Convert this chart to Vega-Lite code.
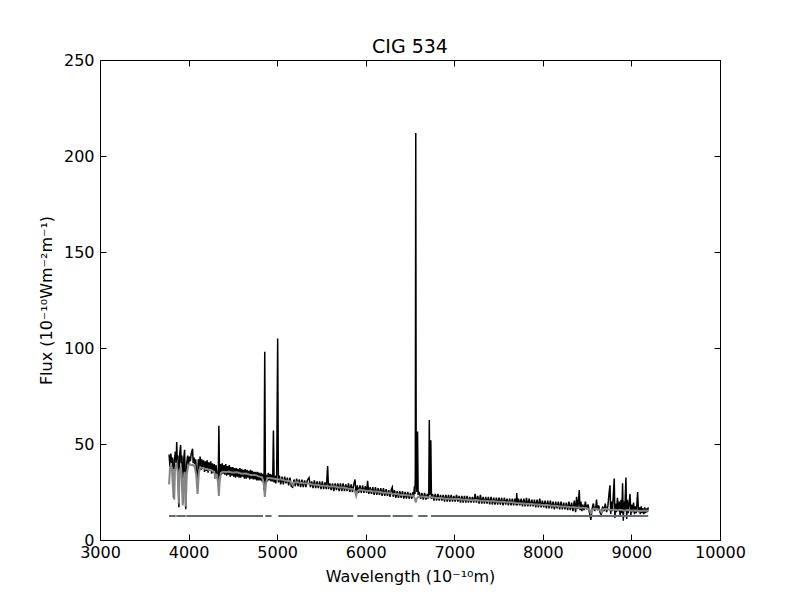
{
  "$schema": "https://vega.github.io/schema/vega-lite/v6.json",
  "description": "CIG 534 spectrum: observed flux, model fit and masked regions.",
  "width": 620,
  "height": 480,
  "autosize": "none",
  "padding": {"left": 100, "top": 60, "right": 80, "bottom": 60},
  "background": "white",
  "title": {
    "text": "CIG 534",
    "font": "DejaVu Sans",
    "fontSize": 19,
    "fontWeight": "normal",
    "color": "black",
    "frame": "group",
    "anchor": "middle",
    "offset": -5
  },
  "config": {
    "view": {"stroke": "black", "strokeWidth": 1},
    "axis": {
      "domain": false,
      "grid": false,
      "ticks": true,
      "tickColor": "black",
      "tickSize": -6,
      "tickWidth": 1,
      "labelFont": "DejaVu Sans",
      "labelFontSize": 16,
      "labelColor": "black",
      "titleFont": "DejaVu Sans",
      "titleFontSize": 16,
      "titleFontWeight": "normal",
      "titleColor": "black"
    }
  },
  "datasets": {
    "obs": [
      {"w":3780,"f":44.5},{"w":3790,"f":38},{"w":3800,"f":45},{"w":3810,"f":40},{"w":3820,"f":43},{"w":3830,"f":22},
      {"w":3840,"f":41},{"w":3850,"f":46},{"w":3860,"f":40},{"w":3866,"f":51},{"w":3872,"f":42},{"w":3880,"f":44},
      {"w":3891,"f":17},{"w":3900,"f":45},{"w":3910,"f":49.5},{"w":3918,"f":40},{"w":3925,"f":44},{"w":3935,"f":19},
      {"w":3945,"f":42},{"w":3955,"f":47},{"w":3968,"f":16},{"w":3978,"f":40},{"w":3990,"f":44},{"w":4000,"f":39},
      {"w":4010,"f":43.5},{"w":4020,"f":41},{"w":4030,"f":45},{"w":4045,"f":47.5},{"w":4052,"f":40},{"w":4060,"f":43},
      {"w":4070,"f":39.5},{"w":4080,"f":42},{"w":4090,"f":35},{"w":4100,"f":29},{"w":4110,"f":42},{"w":4120,"f":37},
      {"w":4130,"f":43.5},{"w":4140,"f":36.5},{"w":4150,"f":42},{"w":4160,"f":37},{"w":4170,"f":41.5},{"w":4180,"f":35.5},
      {"w":4190,"f":41},{"w":4200,"f":36},{"w":4210,"f":41.5},{"w":4220,"f":35},{"w":4230,"f":40.5},{"w":4240,"f":36},
      {"w":4250,"f":41},{"w":4260,"f":34.5},{"w":4270,"f":40},{"w":4280,"f":35},{"w":4290,"f":39.5},{"w":4300,"f":32},
      {"w":4310,"f":39},{"w":4320,"f":34.5},{"w":4335,"f":30},{"w":4342,"f":59.5},{"w":4350,"f":33},{"w":4360,"f":39.5},
      {"w":4370,"f":34},{"w":4380,"f":40},{"w":4390,"f":34.5},{"w":4400,"f":39},{"w":4410,"f":34},{"w":4420,"f":39.5},
      {"w":4430,"f":33.5},{"w":4440,"f":38.5},{"w":4450,"f":34},{"w":4460,"f":39},{"w":4470,"f":33},{"w":4480,"f":38},
      {"w":4490,"f":33.5},{"w":4500,"f":38},{"w":4510,"f":33},{"w":4520,"f":37.5},{"w":4530,"f":32.5},{"w":4540,"f":37.5},
      {"w":4550,"f":33},{"w":4560,"f":37},{"w":4570,"f":32.5},{"w":4580,"f":37.5},{"w":4590,"f":32.5},{"w":4600,"f":37},
      {"w":4610,"f":33},{"w":4620,"f":36.5},{"w":4630,"f":32},{"w":4640,"f":37},{"w":4650,"f":32},{"w":4660,"f":36.5},
      {"w":4670,"f":32.5},{"w":4680,"f":36},{"w":4690,"f":31.5},{"w":4700,"f":36.5},{"w":4710,"f":32},{"w":4720,"f":36},
      {"w":4730,"f":31.5},{"w":4740,"f":35.5},{"w":4750,"f":31.5},{"w":4760,"f":35.5},{"w":4770,"f":31},{"w":4780,"f":35.5},
      {"w":4790,"f":31},{"w":4800,"f":35},{"w":4810,"f":31},{"w":4820,"f":35},{"w":4830,"f":30.5},{"w":4840,"f":34.5},
      {"w":4852,"f":26},{"w":4860,"f":98},{"w":4868,"f":28},{"w":4878,"f":34},{"w":4890,"f":30.5},{"w":4900,"f":35},
      {"w":4910,"f":31},{"w":4920,"f":34.5},{"w":4930,"f":30.5},{"w":4940,"f":34},{"w":4950,"f":30.5},{"w":4958,"f":57},
      {"w":4966,"f":30},{"w":4975,"f":33.5},{"w":4985,"f":29.5},{"w":4995,"f":34},{"w":5006,"f":105},{"w":5014,"f":30},
      {"w":5025,"f":33.5},{"w":5040,"f":29},{"w":5055,"f":33},{"w":5070,"f":29},{"w":5085,"f":33},{"w":5100,"f":29.5},
      {"w":5115,"f":32.5},{"w":5130,"f":28.5},{"w":5145,"f":32.5},{"w":5160,"f":28},{"w":5175,"f":27.5},{"w":5190,"f":31.5},
      {"w":5205,"f":28},{"w":5220,"f":32},{"w":5235,"f":28},{"w":5250,"f":31.5},{"w":5265,"f":27.5},{"w":5280,"f":31.5},
      {"w":5295,"f":27.5},{"w":5310,"f":31},{"w":5325,"f":27.5},{"w":5340,"f":31},{"w":5360,"f":32.5},{"w":5375,"f":27.5},
      {"w":5390,"f":30.5},{"w":5405,"f":27},{"w":5420,"f":31},{"w":5435,"f":27},{"w":5450,"f":30.5},{"w":5465,"f":27},
      {"w":5480,"f":30.5},{"w":5495,"f":26.5},{"w":5510,"f":30.5},{"w":5525,"f":26.5},{"w":5540,"f":30},{"w":5555,"f":26.5},
      {"w":5570,"f":38.5},{"w":5580,"f":26.5},{"w":5595,"f":29.5},{"w":5610,"f":26},{"w":5625,"f":29.5},{"w":5640,"f":25.5},
      {"w":5655,"f":29.5},{"w":5670,"f":26},{"w":5685,"f":29.5},{"w":5700,"f":25.5},{"w":5715,"f":29.5},{"w":5730,"f":25.5},
      {"w":5745,"f":29.5},{"w":5760,"f":25.5},{"w":5775,"f":29},{"w":5790,"f":25.5},{"w":5805,"f":29.5},{"w":5820,"f":25},
      {"w":5835,"f":29},{"w":5850,"f":25},{"w":5865,"f":29},{"w":5879,"f":31.5},{"w":5892,"f":23.5},{"w":5905,"f":28.5},
      {"w":5920,"f":24.5},{"w":5935,"f":28.5},{"w":5950,"f":24.5},{"w":5965,"f":28.5},{"w":5980,"f":24.5},{"w":5995,"f":28},
      {"w":6010,"f":24.5},{"w":6021,"f":30.8},{"w":6035,"f":24},{"w":6050,"f":27.5},{"w":6065,"f":24},{"w":6080,"f":27.5},
      {"w":6095,"f":23.5},{"w":6110,"f":27.5},{"w":6125,"f":23.5},{"w":6140,"f":27},{"w":6155,"f":23.5},{"w":6170,"f":27},
      {"w":6185,"f":23},{"w":6200,"f":27},{"w":6215,"f":23},{"w":6230,"f":26.5},{"w":6245,"f":23},{"w":6260,"f":26},
      {"w":6275,"f":22.5},{"w":6290,"f":26.5},{"w":6300,"f":27.5},{"w":6310,"f":22.5},{"w":6325,"f":26},{"w":6340,"f":22},
      {"w":6355,"f":25.5},{"w":6370,"f":22},{"w":6385,"f":25.5},{"w":6400,"f":22},{"w":6415,"f":25.5},{"w":6430,"f":21.5},
      {"w":6445,"f":25},{"w":6460,"f":21.5},{"w":6475,"f":25},{"w":6490,"f":21.5},{"w":6505,"f":24.5},{"w":6520,"f":21.5},
      {"w":6535,"f":25},{"w":6542,"f":23},{"w":6550,"f":28},{"w":6556,"f":24},{"w":6560,"f":33},{"w":6565,"f":212},
      {"w":6570,"f":33},{"w":6578,"f":25},{"w":6585,"f":56.5},{"w":6592,"f":24},{"w":6605,"f":24.5},{"w":6620,"f":21.5},
      {"w":6635,"f":24.5},{"w":6650,"f":21},{"w":6665,"f":24.5},{"w":6680,"f":21},{"w":6695,"f":24},{"w":6705,"f":21.5},
      {"w":6712,"f":24},{"w":6718,"f":62.5},{"w":6724,"f":23.5},{"w":6735,"f":52},{"w":6742,"f":21.5},{"w":6755,"f":24},
      {"w":6770,"f":20.5},{"w":6785,"f":24},{"w":6800,"f":20.5},{"w":6815,"f":24},{"w":6830,"f":20.5},{"w":6845,"f":23.5},
      {"w":6860,"f":20.5},{"w":6875,"f":23.5},{"w":6890,"f":20},{"w":6905,"f":23.5},{"w":6920,"f":20},{"w":6935,"f":23.5},
      {"w":6950,"f":20},{"w":6965,"f":23.5},{"w":6980,"f":20},{"w":6995,"f":23},{"w":7010,"f":20},{"w":7025,"f":23.5},
      {"w":7040,"f":20},{"w":7055,"f":23},{"w":7070,"f":19.5},{"w":7085,"f":23},{"w":7100,"f":19.5},{"w":7115,"f":23},
      {"w":7130,"f":19.5},{"w":7145,"f":23},{"w":7160,"f":19.5},{"w":7175,"f":22.5},{"w":7190,"f":19.5},{"w":7205,"f":22.5},
      {"w":7220,"f":19.5},{"w":7235,"f":24},{"w":7250,"f":19.5},{"w":7265,"f":23},{"w":7280,"f":19},{"w":7295,"f":23.5},
      {"w":7310,"f":19},{"w":7325,"f":22.5},{"w":7340,"f":19},{"w":7355,"f":22.5},{"w":7370,"f":19},{"w":7385,"f":22.5},
      {"w":7400,"f":18.5},{"w":7415,"f":22.5},{"w":7430,"f":18.5},{"w":7445,"f":22},{"w":7460,"f":18.5},{"w":7475,"f":22},
      {"w":7490,"f":18.5},{"w":7505,"f":22},{"w":7520,"f":18.5},{"w":7535,"f":22},{"w":7550,"f":18},{"w":7565,"f":22},
      {"w":7580,"f":18.5},{"w":7595,"f":21.5},{"w":7610,"f":18},{"w":7625,"f":21.5},{"w":7640,"f":18},{"w":7655,"f":21.5},
      {"w":7670,"f":18},{"w":7685,"f":21.5},{"w":7700,"f":18},{"w":7705,"f":24.5},{"w":7712,"f":18},{"w":7725,"f":21.5},
      {"w":7740,"f":18},{"w":7755,"f":21.5},{"w":7770,"f":17.5},{"w":7785,"f":21.5},{"w":7800,"f":17.5},{"w":7815,"f":22},
      {"w":7830,"f":17.5},{"w":7845,"f":21.5},{"w":7860,"f":17.5},{"w":7875,"f":21},{"w":7890,"f":17.5},{"w":7905,"f":21},
      {"w":7920,"f":17},{"w":7935,"f":21},{"w":7950,"f":17},{"w":7965,"f":21.5},{"w":7980,"f":17},{"w":7995,"f":20.5},
      {"w":8010,"f":17},{"w":8025,"f":20.5},{"w":8040,"f":16.5},{"w":8055,"f":20.5},{"w":8070,"f":16.5},{"w":8085,"f":20.5},
      {"w":8100,"f":16.5},{"w":8115,"f":20},{"w":8130,"f":16},{"w":8145,"f":20},{"w":8160,"f":16.5},{"w":8175,"f":20},
      {"w":8190,"f":16},{"w":8205,"f":20},{"w":8220,"f":16},{"w":8235,"f":19.5},{"w":8250,"f":16},{"w":8265,"f":19.5},
      {"w":8280,"f":15.5},{"w":8295,"f":20},{"w":8310,"f":15.5},{"w":8325,"f":19.5},{"w":8340,"f":15},{"w":8355,"f":20.5},
      {"w":8370,"f":14.5},{"w":8381,"f":22.5},{"w":8392,"f":16},{"w":8400,"f":19},{"w":8411,"f":26},{"w":8420,"f":15.5},
      {"w":8430,"f":20},{"w":8440,"f":15},{"w":8450,"f":18.5},{"w":8465,"f":15.5},{"w":8480,"f":20},{"w":8495,"f":16},
      {"w":8510,"f":18.5},{"w":8525,"f":14.5},{"w":8542,"f":10.5},{"w":8555,"f":16},{"w":8570,"f":19},{"w":8585,"f":15},
      {"w":8600,"f":18},{"w":8606,"f":21},{"w":8615,"f":15.5},{"w":8630,"f":18},{"w":8645,"f":14.5},{"w":8660,"f":13},
      {"w":8675,"f":17.5},{"w":8690,"f":15},{"w":8705,"f":19},{"w":8720,"f":14.5},{"w":8735,"f":18},{"w":8747,"f":24},
      {"w":8758,"f":28.5},{"w":8766,"f":13.5},{"w":8775,"f":20},{"w":8785,"f":15},{"w":8795,"f":23},{"w":8806,"f":32},
      {"w":8813,"f":11.5},{"w":8822,"f":19},{"w":8832,"f":14.5},{"w":8842,"f":22},{"w":8852,"f":15},{"w":8862,"f":20},
      {"w":8872,"f":12.5},{"w":8882,"f":21},{"w":8892,"f":14},{"w":8900,"f":29.5},{"w":8908,"f":10},{"w":8916,"f":20},
      {"w":8925,"f":15},{"w":8938,"f":32.5},{"w":8946,"f":11},{"w":8955,"f":21},{"w":8964,"f":14},{"w":8974,"f":19},
      {"w":8984,"f":24},{"w":8994,"f":13},{"w":9004,"f":18.5},{"w":9014,"f":14.5},{"w":9024,"f":19.5},{"w":9034,"f":13.5},
      {"w":9044,"f":17.5},{"w":9055,"f":14},{"w":9070,"f":25},{"w":9080,"f":14.5},{"w":9090,"f":17},{"w":9100,"f":13.5},
      {"w":9110,"f":17.5},{"w":9120,"f":14},{"w":9130,"f":16.5},{"w":9140,"f":13.5},{"w":9150,"f":17},{"w":9160,"f":14},
      {"w":9170,"f":16.5},{"w":9180,"f":14.5},{"w":9190,"f":17}
    ],
    "model": [
      {"w":3780,"f":29},{"w":3790,"f":37},{"w":3800,"f":39},{"w":3812,"f":37.5},{"w":3824,"f":27},{"w":3832,"f":37},
      {"w":3838,"f":21},{"w":3846,"f":36.5},{"w":3860,"f":39},{"w":3876,"f":36.5},{"w":3889,"f":19},{"w":3900,"f":35.5},
      {"w":3912,"f":38},{"w":3922,"f":34.5},{"w":3934,"f":18},{"w":3945,"f":31.5},{"w":3956,"f":35.5},{"w":3968,"f":17.5},
      {"w":3980,"f":34.5},{"w":3995,"f":38.5},{"w":4010,"f":39.5},{"w":4030,"f":39},{"w":4050,"f":39},{"w":4070,"f":38},
      {"w":4086,"f":34},{"w":4102,"f":24},{"w":4116,"f":35},{"w":4132,"f":38},{"w":4150,"f":37.5},{"w":4170,"f":37.5},
      {"w":4190,"f":37},{"w":4210,"f":37},{"w":4230,"f":36.5},{"w":4250,"f":36.5},{"w":4270,"f":36},{"w":4290,"f":35.5},
      {"w":4305,"f":32},{"w":4320,"f":34.5},{"w":4332,"f":30},{"w":4342,"f":23},{"w":4352,"f":31},{"w":4365,"f":35},
      {"w":4385,"f":35.5},{"w":4405,"f":35.5},{"w":4425,"f":35.3},{"w":4450,"f":35.6},{"w":4500,"f":35.1},{"w":4550,"f":35.3},
      {"w":4600,"f":34.5},{"w":4650,"f":34.6},{"w":4700,"f":33.8},{"w":4750,"f":33.9},{"w":4800,"f":33},{"w":4830,"f":32.6},
      {"w":4848,"f":30},{"w":4861,"f":22.5},{"w":4874,"f":29.5},{"w":4890,"f":32.4},{"w":4925,"f":32.2},{"w":4950,"f":32},
      {"w":5000,"f":31.6},{"w":5050,"f":31.5},{"w":5100,"f":30.8},{"w":5140,"f":30.7},{"w":5165,"f":29.5},{"w":5178,"f":28.5},
      {"w":5192,"f":30},{"w":5220,"f":30.2},{"w":5250,"f":29.8},{"w":5300,"f":29.5},{"w":5350,"f":29.4},{"w":5400,"f":28.9},
      {"w":5450,"f":28.8},{"w":5500,"f":28.3},{"w":5550,"f":28.3},{"w":5600,"f":27.8},{"w":5650,"f":27.8},{"w":5700,"f":27.3},
      {"w":5750,"f":27.3},{"w":5800,"f":26.8},{"w":5850,"f":26.6},{"w":5878,"f":25.5},{"w":5892,"f":23},{"w":5906,"f":25.5},
      {"w":5930,"f":26.3},{"w":5960,"f":26.1},{"w":6000,"f":25.7},{"w":6050,"f":25.7},{"w":6100,"f":25.2},{"w":6150,"f":25.1},
      {"w":6200,"f":24.6},{"w":6250,"f":24.6},{"w":6300,"f":24.1},{"w":6350,"f":24},{"w":6400,"f":23.5},{"w":6450,"f":23.5},
      {"w":6500,"f":23.1},{"w":6540,"f":23},{"w":6556,"f":21.5},{"w":6565,"f":19.5},{"w":6574,"f":21.5},{"w":6600,"f":22.7},
      {"w":6650,"f":22.7},{"w":6700,"f":22.3},{"w":6750,"f":22.3},{"w":6800,"f":21.9},{"w":6850,"f":21.9},{"w":6900,"f":21.5},
      {"w":6950,"f":21.5},{"w":7000,"f":21.3},{"w":7050,"f":21.3},{"w":7100,"f":21},{"w":7150,"f":21.1},{"w":7200,"f":20.7},
      {"w":7250,"f":20.8},{"w":7300,"f":20.5},{"w":7350,"f":20.5},{"w":7400,"f":20.2},{"w":7450,"f":20.2},{"w":7500,"f":19.9},
      {"w":7550,"f":19.9},{"w":7600,"f":19.6},{"w":7650,"f":19.6},{"w":7700,"f":19.3},{"w":7750,"f":19.2},{"w":7800,"f":18.9},
      {"w":7850,"f":18.9},{"w":7900,"f":18.6},{"w":7950,"f":18.5},{"w":8000,"f":18.2},{"w":8050,"f":18.2},{"w":8100,"f":17.8},
      {"w":8150,"f":17.8},{"w":8200,"f":17.5},{"w":8250,"f":17.5},{"w":8300,"f":17.2},{"w":8350,"f":17.1},{"w":8400,"f":16.8},
      {"w":8450,"f":16.8},{"w":8500,"f":16.6},{"w":8530,"f":15.5},{"w":8542,"f":14},{"w":8554,"f":15.5},{"w":8580,"f":16.4},
      {"w":8640,"f":15.8},{"w":8662,"f":14.5},{"w":8680,"f":16},{"w":8720,"f":16.2},{"w":8760,"f":15.6},{"w":8800,"f":15.9},
      {"w":8840,"f":15.5},{"w":8880,"f":15.8},{"w":8920,"f":15.2},{"w":8960,"f":15.6},{"w":9000,"f":15.3},{"w":9050,"f":15.4},
      {"w":9100,"f":15.1},{"w":9150,"f":15.3},{"w":9190,"f":15.2}
    ],
    "mask": [
      {"a":3779,"b":3855},{"a":3862,"b":3968},{"a":3975,"b":4840},{"a":4866,"b":4937},{"a":5013,"b":5860},
      {"a":5904,"b":6281},{"a":6304,"b":6529},{"a":6593,"b":6698},{"a":6737,"b":9190}
    ]
  },
  "layer": [
    {
      "data": {"name": "obs"},
      "mark": {"type": "line", "color": "black", "strokeWidth": 1.5},
      "encoding": {
        "x": {
          "field": "w",
          "type": "quantitative",
          "scale": {"domain": [3000, 10000], "nice": false, "zero": false},
          "axis": {"orient": "bottom", "title": "Wavelength (10⁻¹⁰m)", "values": [3000, 4000, 5000, 6000, 7000, 8000, 9000, 10000], "format": "d", "labelPadding": 10, "titlePadding": 8, "labelFlush": false}
        },
        "y": {
          "field": "f",
          "type": "quantitative",
          "scale": {"domain": [0, 250], "nice": false},
          "axis": {"orient": "left", "title": "Flux (10⁻¹⁰Wm⁻²m⁻¹)", "values": [0, 50, 100, 150, 200, 250], "labelPadding": 12, "titlePadding": 9, "labelFlush": false}
        }
      }
    },
    {
      "data": {"name": "model"},
      "mark": {"type": "line", "color": "#858585", "strokeWidth": 2},
      "encoding": {
        "x": {
          "field": "w",
          "type": "quantitative",
          "axis": {"orient": "top", "title": null, "labels": false, "values": [3000, 4000, 5000, 6000, 7000, 8000, 9000, 10000]}
        },
        "y": {
          "field": "f",
          "type": "quantitative",
          "axis": {"orient": "right", "title": null, "labels": false, "values": [0, 50, 100, 150, 200, 250]}
        }
      }
    },
    {
      "data": {"name": "mask"},
      "mark": {"type": "rule", "color": "#5f6e76", "strokeWidth": 2},
      "encoding": {
        "x": {"field": "a", "type": "quantitative", "axis": null},
        "x2": {"field": "b"},
        "y": {"datum": 12.5, "type": "quantitative", "axis": null}
      }
    }
  ],
  "resolve": {"axis": {"x": "independent", "y": "independent"}}
}
